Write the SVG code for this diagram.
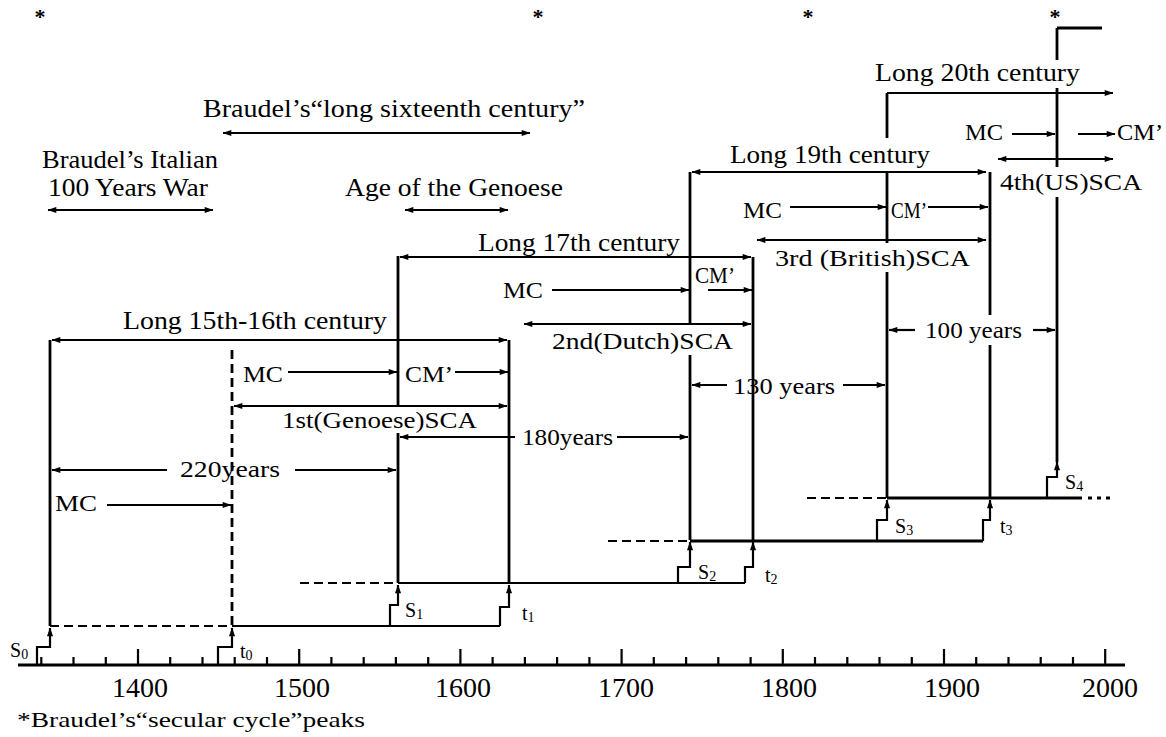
<svg xmlns="http://www.w3.org/2000/svg" width="1166" height="737" viewBox="0 0 1166 737">
<defs>
<style>
text{font-family:"Liberation Serif","Times New Roman",serif;fill:#000}
.t{font-size:26px}
.m{font-size:24px}
.s{font-size:20px}
.y{font-size:28px}
.star{font-size:22px;font-weight:bold}
.ln{stroke:#000;stroke-width:2.2;fill:none}
.vl{stroke:#000;stroke-width:2.8;fill:none}
.ar{marker-end:url(#ah)}
.da{marker-start:url(#ah);marker-end:url(#ah)}
.dash{stroke-dasharray:9 5}
.dot{stroke-dasharray:4 5}
</style>
<marker id="ah" viewBox="0 0 10 8" refX="9.5" refY="4" markerWidth="11" markerHeight="7" markerUnits="userSpaceOnUse" orient="auto-start-reverse">
<path d="M0,0.5 L10,4 L0,7.5 z" fill="#000"/>
</marker>
</defs>
<rect width="1166" height="737" fill="#fff"/>

<g id="peaks">
<text x="40" y="24" class="star" text-anchor="middle">*</text>
<text x="538" y="24" class="star" text-anchor="middle">*</text>
<text x="808" y="24" class="star" text-anchor="middle">*</text>
<text x="1055" y="24" class="star" text-anchor="middle">*</text>
</g>

<g id="axis">
<path class="vl" d="M18,665 H1125"/>
<path class="ln" d="M41.3,665v-8 M73.5,665v-8 M105.8,665v-8 M138,665v-16 M170.2,665v-8 M202.5,665v-8 M234.7,665v-8 M267,665v-8 M299.2,665v-16 M331.4,665v-8 M363.7,665v-8 M395.9,665v-8 M428.2,665v-8 M460.4,665v-16 M492.6,665v-8 M524.9,665v-8 M557.1,665v-8 M589.4,665v-8 M621.6,665v-16 M653.8,665v-8 M686.1,665v-8 M718.3,665v-8 M750.6,665v-8 M782.8,665v-16 M815,665v-8 M847.3,665v-8 M879.5,665v-8 M911.8,665v-8 M944,665v-16 M976.2,665v-8 M1008.5,665v-8 M1040.7,665v-8 M1073,665v-8 M1105.2,665v-16"/>
<text class="y" x="140" y="697" text-anchor="middle">1400</text>
<text class="y" x="302" y="697" text-anchor="middle">1500</text>
<text class="y" x="463" y="697" text-anchor="middle">1600</text>
<text class="y" x="626" y="697" text-anchor="middle">1700</text>
<text class="y" x="789" y="697" text-anchor="middle">1800</text>
<text class="y" x="952" y="697" text-anchor="middle">1900</text>
<text class="y" x="1110" y="697" text-anchor="middle">2000</text>
</g>

<g id="italian-war">
<text class="t" x="42" y="168" textLength="176" lengthAdjust="spacingAndGlyphs">Braudel’s Italian</text>
<text class="t" x="48" y="196" textLength="160" lengthAdjust="spacingAndGlyphs">100 Years War</text>
</g>
<g id="long-sixteenth">
<text class="t" x="203" y="117" textLength="382" lengthAdjust="spacingAndGlyphs">Braudel’s“long sixteenth century”</text>
</g>
<g id="age-genoese">
<text class="t" x="345" y="196" textLength="218" lengthAdjust="spacingAndGlyphs">Age of the Genoese</text>
</g>
<g id="long-15-16">
<text class="t" x="123" y="329" textLength="264" lengthAdjust="spacingAndGlyphs">Long 15th-16th century</text>
<text class="m" x="243" y="382" textLength="40" lengthAdjust="spacingAndGlyphs">MC</text>
<text class="m" x="405" y="382" textLength="48" lengthAdjust="spacingAndGlyphs">CM’</text>
<text class="m" x="55" y="511" textLength="42" lengthAdjust="spacingAndGlyphs">MC</text>
</g>
<g id="sca1">
<text class="m" x="282" y="428" textLength="195" lengthAdjust="spacingAndGlyphs">1st(Genoese)SCA</text>
</g>
<g id="long-17">
<text class="t" x="478" y="251" textLength="202" lengthAdjust="spacingAndGlyphs">Long 17th century</text>
<text class="m" x="503" y="298" textLength="40" lengthAdjust="spacingAndGlyphs">MC</text>
<text class="m" x="695" y="283" textLength="40" lengthAdjust="spacingAndGlyphs">CM’</text>
</g>
<g id="sca2">
<text class="m" x="552" y="349" textLength="181" lengthAdjust="spacingAndGlyphs">2nd(Dutch)SCA</text>
</g>
<g id="long-19">
<text class="t" x="730" y="163" textLength="200" lengthAdjust="spacingAndGlyphs">Long 19th century</text>
<text class="m" x="743" y="218" textLength="39" lengthAdjust="spacingAndGlyphs">MC</text>
<text class="m" x="891" y="218" font-size="22" textLength="36" lengthAdjust="spacingAndGlyphs">CM’</text>
</g>
<g id="sca3">
<text class="m" x="775" y="266" textLength="195" lengthAdjust="spacingAndGlyphs">3rd (British)SCA</text>
</g>
<g id="long-20">
<text class="t" x="875" y="81" textLength="205" lengthAdjust="spacingAndGlyphs">Long 20th century</text>
<text class="m" x="965" y="140" textLength="38" lengthAdjust="spacingAndGlyphs">MC</text>
<text class="m" x="1117" y="140" textLength="46" lengthAdjust="spacingAndGlyphs">CM’</text>
</g>
<g id="sca4">
<text class="m" x="1000" y="190" textLength="142" lengthAdjust="spacingAndGlyphs">4th(US)SCA</text>
</g>
<g id="intervals">
<text class="m" x="180" y="477" textLength="100" lengthAdjust="spacingAndGlyphs">220years</text>
<text class="m" x="522" y="445" textLength="91" lengthAdjust="spacingAndGlyphs">180years</text>
<text class="m" x="733" y="394" textLength="102" lengthAdjust="spacingAndGlyphs">130 years</text>
<text class="m" x="925" y="338" textLength="97" lengthAdjust="spacingAndGlyphs">100 years</text>
</g>
<g id="turning-points">
<text class="s" x="10" y="657">S<tspan font-size="14" dy="2">0</tspan></text>
<text class="s" x="240" y="658">t<tspan font-size="14" dy="2">0</tspan></text>
<text class="s" x="405" y="617">S<tspan font-size="14" dy="2">1</tspan></text>
<text class="s" x="522" y="620">t<tspan font-size="14" dy="2">1</tspan></text>
<text class="s" x="698" y="579">S<tspan font-size="14" dy="2">2</tspan></text>
<text class="s" x="765" y="582">t<tspan font-size="14" dy="2">2</tspan></text>
<text class="s" x="895" y="533">S<tspan font-size="14" dy="2">3</tspan></text>
<text class="s" x="1000" y="533">t<tspan font-size="14" dy="2">3</tspan></text>
<text class="s" x="1065" y="489">S<tspan font-size="14" dy="2">4</tspan></text>
</g>
<g id="footnote">
<text x="17" y="727" font-size="21" textLength="348" lengthAdjust="spacingAndGlyphs">*Braudel’s“secular cycle”peaks</text>
</g>

<g id="connectors">
<path class="ln da" d="M48,210 H213"/>
<path class="ln da" d="M223,133 H530"/>
<path class="ln da" d="M405,210 H508"/>
<path class="vl" d="M50,340 V626"/>
<path class="vl dash" d="M232,350 V626" stroke-width="3"/>
<path class="vl" d="M398,256 V405 M398,433 V583"/>
<path class="vl" d="M509,340 V583"/>
<path class="vl" d="M690,172 V323 M690,355 V540"/>
<path class="vl" d="M753,257 V540"/>
<path class="vl" d="M887,93 V138 M887,173 V243 M887,272 V498"/>
<path class="vl" d="M990,172 V315 M990,345 V498"/>
<path class="vl" d="M1057,28 V60 M1057,88 V167 M1057,197 V462 M1057,28 H1102"/>
<path class="ln da" d="M52,340 H507"/>
<path class="ln da" d="M400,257 H751"/>
<path class="ln da" d="M692,172 H986"/>
<path class="ln ar" d="M887,93 H1113"/>
<path class="ln da" d="M234,406 H507"/>
<path class="ln da" d="M524,324 H751"/>
<path class="ln da" d="M757,240 H986"/>
<path class="ln da" d="M998,159 H1113"/>
<path class="ln ar" d="M107,505 H231"/>
<path class="ln ar" d="M288,372 H397"/>
<path class="ln ar" d="M455,372 H508"/>
<path class="ln ar" d="M552,290 H689"/>
<path class="ln ar" d="M708,290 H752"/>
<path class="ln ar" d="M790,207 H886"/>
<path class="ln ar" d="M928,207 H988"/>
<path class="ln ar" d="M1012,134 H1055"/>
<path class="ln ar" d="M1078,134 H1115"/>
<path class="ln ar" d="M167,470 H52"/>
<path class="ln ar" d="M295,470 H396"/>
<path class="ln ar" d="M515,437 H400"/>
<path class="ln ar" d="M617,437 H688"/>
<path class="ln ar" d="M727,385 H692"/>
<path class="ln ar" d="M843,385 H885"/>
<path class="ln ar" d="M915,330 H889"/>
<path class="ln ar" d="M1033,330 H1055"/>
<path class="ln dash" d="M50,626 H232"/>
<path class="ln" d="M232,626 H500"/>
<path class="ln dash" d="M300,583 H398"/>
<path class="ln" d="M398,583 H745"/>
<path class="ln dash" d="M608,541 H690"/>
<path class="vl" d="M690,541 H983"/>
<path class="ln dash" d="M807,498 H887"/>
<path class="vl" d="M887,498 H1082"/>
<path class="vl dot" d="M1088,498 H1112"/>
<path class="ln ar" d="M37,665 V647 H50 V628"/>
<path class="ln ar" d="M218,665 V647 H232 V628"/>
<path class="ln ar" d="M390,626 V605 H398 V585"/>
<path class="ln ar" d="M500,626 V607 H509 V585"/>
<path class="ln ar" d="M678,583 V567 H690 V542"/>
<path class="ln ar" d="M745,583 V567 H753 V542"/>
<path class="ln ar" d="M877,541 V520 H887 V500"/>
<path class="ln ar" d="M983,541 V520 H990 V500"/>
<path class="ln ar" d="M1047,498 V477 H1057 V462"/>
</g>
</svg>
